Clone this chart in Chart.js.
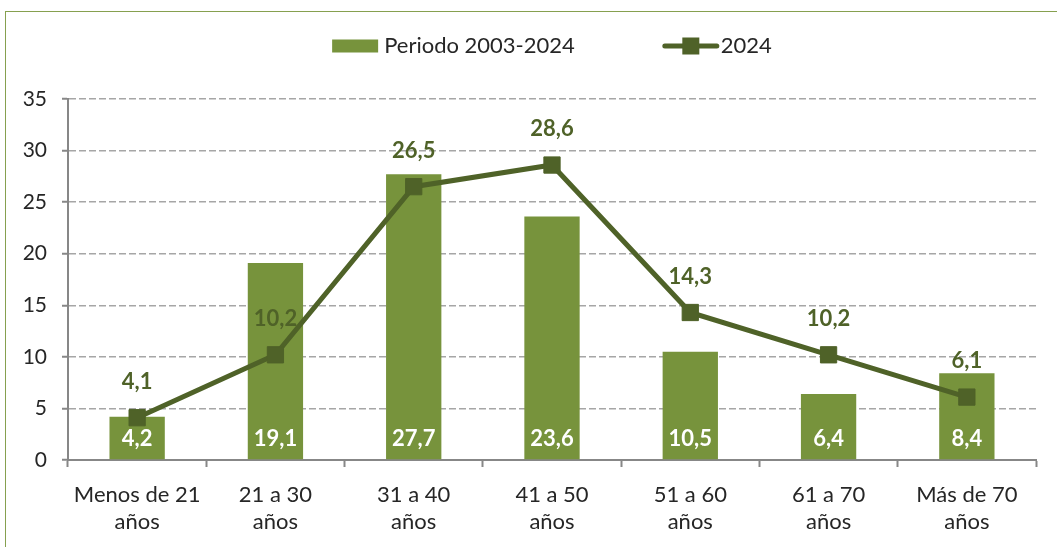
<!DOCTYPE html>
<html>
<head>
  <meta charset="utf-8">
  <title>Distribución por edad</title>
  <script src="https://cdn.jsdelivr.net/npm/chart.js"></script>
  <style>
    body { margin: 0; background: #fff; overflow: hidden; }
    .wrap { position: relative; width: 1057px; height: 547px; }
    canvas { position: absolute; left: 0; top: 0; }
    .frame {
      position: absolute; left: 5px; top: 11px;
      width: 1120px; height: 620px;
      border: 1.5px solid #86a04f;
      box-sizing: border-box;
      pointer-events: none;
    }
  </style>
</head>
<body>
  <div class="wrap">
    <canvas id="chart" width="1057" height="547"></canvas>
    <div class="frame"></div>
  </div>

  <script>
    // data
    const categories = [
      ['Menos de 21', 'años'],
      ['21 a 30', 'años'],
      ['31 a 40', 'años'],
      ['41 a 50', 'años'],
      ['51 a 60', 'años'],
      ['61 a 70', 'años'],
      ['Más de 70', 'años']
    ];
    const periodo = [4.2, 19.1, 27.7, 23.6, 10.5, 6.4, 8.4];
    const serie2024 = [4.1, 10.2, 26.5, 28.6, 14.3, 10.2, 6.1];
    const seriesNames = ['Periodo 2003-2024', '2024'];
    const yTicks = { min: 0, max: 35, step: 5 };

    const BAR_GREEN = '#77933c';
    const LINE_GREEN = '#4f6228';
    const AXIS_GREY = '#878787';
    const GRID_GREY = '#a6a6a6';
    const TEXT = '#262626';
    const FAMILY = 'Lato, "Open Sans", sans-serif';

    const fmt = v => v.toFixed(1).replace('.', ',');

    // value labels: white inside bar bottom, dark green above line points
    const valueLabels = {
      id: 'valueLabels',
      afterDatasetsDraw(chart) {
        const ctx = chart.ctx;
        ctx.save();
        ctx.font = 'bold 22px ' + FAMILY;
        ctx.textAlign = 'center';
        ctx.textBaseline = 'middle';
        chart.data.datasets.forEach((ds, i) => {
          const meta = chart.getDatasetMeta(i);
          meta.data.forEach((el, j) => {
            if (ds.type === 'bar') {
              ctx.fillStyle = '#ffffff';
              ctx.fillText(fmt(ds.data[j]), el.x, el.base - 20);
            } else {
              ctx.fillStyle = LINE_GREEN;
              ctx.fillText(fmt(ds.data[j]), el.x, el.y - 36);
            }
          });
        });
        ctx.restore();
      }
    };

    // legend on top: bar swatch, line-with-marker swatch
    const topLegend = {
      id: 'topLegend',
      afterDraw(chart) {
        const ctx = chart.ctx;
        const ds = chart.data.datasets;
        const cy = 46;
        ctx.save();
        ctx.font = '22px ' + FAMILY;
        ctx.textBaseline = 'middle';
        ctx.fillStyle = TEXT;
        const w1 = 46 + 6 + ctx.measureText(ds[0].label).width;
        const w2 = 52 + 4 + ctx.measureText(ds[1].label).width;
        const gap = 90;
        let x = (chart.chartArea.left + chart.chartArea.right) / 2 - (w1 + gap + w2) / 2;

        ctx.fillStyle = BAR_GREEN;
        ctx.fillRect(x, cy - 6.5, 46, 13);
        ctx.fillStyle = TEXT;
        ctx.fillText(ds[0].label, x + 52, cy);

        x += w1 + gap;
        ctx.strokeStyle = LINE_GREEN;
        ctx.lineWidth = 5;
        ctx.lineCap = 'round';
        ctx.beginPath();
        ctx.moveTo(x, cy);
        ctx.lineTo(x + 52, cy);
        ctx.stroke();
        ctx.fillStyle = LINE_GREEN;
        ctx.fillRect(x + 26 - 8.5, cy - 8.5, 17, 17);
        ctx.fillStyle = TEXT;
        ctx.fillText(ds[1].label, x + 56, cy);
        ctx.restore();
      }
    };

    const ctx = document.getElementById('chart').getContext('2d');
    const chart = new Chart(ctx, {
      data: {
        labels: categories,
        datasets: [
          {
            type: 'bar',
            label: seriesNames[0],
            data: periodo,
            backgroundColor: BAR_GREEN,
            categoryPercentage: 1,
            barPercentage: 0.4,
            order: 2
          },
          {
            type: 'line',
            label: seriesNames[1],
            data: serie2024,
            borderColor: LINE_GREEN,
            borderWidth: 5,
            backgroundColor: LINE_GREEN,
            pointStyle: 'rect',
            pointRadius: 11.5,
            pointBorderWidth: 1,
            pointBorderColor: LINE_GREEN,
            pointBackgroundColor: LINE_GREEN,
            tension: 0,
            order: 1
          }
        ]
      },
      options: {
        responsive: false,
        animation: false,
        devicePixelRatio: 1,
        layout: { padding: { top: 99, right: 21, left: 0, bottom: 0 } },
        plugins: {
          legend: { display: false },
          tooltip: { enabled: false }
        },
        scales: {
          x: {
            grid: {
              offset: true,
              drawOnChartArea: false,
              drawTicks: true,
              tickLength: 7,
              tickColor: AXIS_GREY,
              tickWidth: 2
            },
            border: { display: true, color: AXIS_GREY, width: 2 },
            ticks: {
              color: TEXT,
              padding: 14,
              maxRotation: 0,
              autoSkip: false,
              font: { family: FAMILY, size: 22, lineHeight: 1.23 }
            },
            afterFit(scale) { scale.height = 87; }
          },
          y: {
            min: yTicks.min,
            max: yTicks.max,
            grid: {
              color: GRID_GREY,
              lineWidth: 1.5,
              drawTicks: true,
              tickLength: 6,
              tickColor: AXIS_GREY,
              tickWidth: 2
            },
            border: { display: true, color: AXIS_GREY, width: 2, dash: [7, 3] },
            ticks: {
              stepSize: yTicks.step,
              color: TEXT,
              padding: 15,
              font: { family: FAMILY, size: 21 }
            },
            afterFit(scale) { scale.width = 68; }
          }
        }
      },
      plugins: [valueLabels, topLegend]
    });
  </script>
</body>
</html>
